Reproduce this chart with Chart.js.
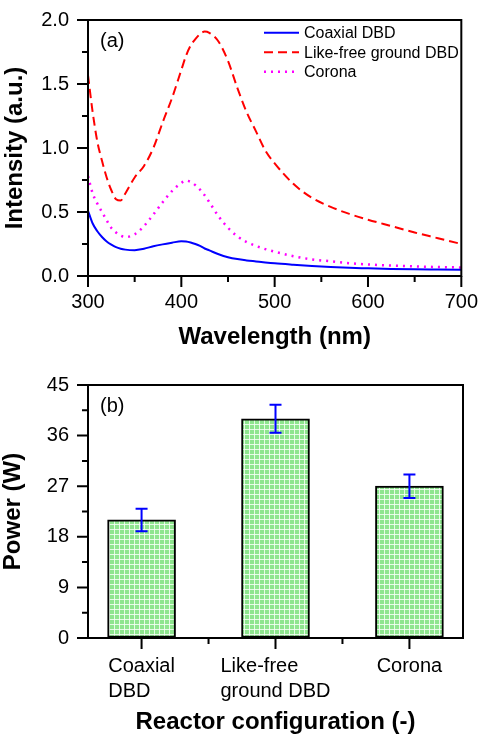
<!DOCTYPE html>
<html><head><meta charset="utf-8">
<script src="https://cdn.jsdelivr.net/npm/chart.js@4.4.1/dist/chart.umd.min.js"></script>
<style>
html,body{margin:0;padding:0;background:#fff;}
#wrap{position:relative;width:481px;height:739px;}
canvas{position:absolute;left:0;}
</style></head><body>
<div id="wrap">
<canvas id="top" width="481" height="365" style="top:0;width:481px;height:365px"></canvas>
<canvas id="bot" width="481" height="374" style="top:365px;width:481px;height:374px"></canvas>
</div>
<script>
// ---------- data (panel a) ----------
const wavelength = [300,305,310,315,320,325,330,335,340,350,360,370,380,390,400,405,410,415,420,425,430,440,450,460,470,480,490,500,520,540,560,580,600,625,650,675,700];
const coaxialDBD = [0.51,0.41,0.35,0.305,0.27,0.245,0.225,0.213,0.206,0.202,0.213,0.232,0.247,0.26,0.272,0.27,0.262,0.25,0.235,0.215,0.2,0.17,0.147,0.132,0.122,0.114,0.106,0.099,0.088,0.078,0.07,0.064,0.06,0.055,0.052,0.05,0.048];
const likeFreeDBD = [1.57,1.28,1.05,0.90,0.77,0.67,0.60,0.59,0.645,0.77,0.86,1.0,1.20,1.39,1.61,1.72,1.80,1.85,1.89,1.91,1.90,1.83,1.68,1.47,1.28,1.13,0.98,0.88,0.72,0.61,0.54,0.485,0.44,0.39,0.34,0.295,0.25];
const corona = [0.78,0.645,0.565,0.50,0.435,0.375,0.34,0.315,0.305,0.325,0.39,0.48,0.576,0.664,0.727,0.745,0.735,0.71,0.675,0.63,0.577,0.465,0.377,0.31,0.265,0.235,0.21,0.19,0.155,0.13,0.115,0.10,0.09,0.082,0.075,0.07,0.067];
const seriesNames = ['Coaxial DBD','Like-free ground DBD','Corona'];
const xTicksA = [300,400,500,600,700];
const yTicksA = [0,0.5,1.0,1.5,2.0];

// ---------- data (panel b) ----------
const categories = ['Coaxial DBD','Like-free ground DBD','Corona'];
const categoryLines = [['Coaxial','DBD'],['Like-free','ground DBD'],['Corona']];
const categoryPos = [1,2,3];
const power = [21,39,27];
const powerErr = [2,2.5,2.1];
const yTicksB = [0,9,18,27,36,45];

const FONT = "'Liberation Sans', Arial, sans-serif";
Chart.defaults.font.family = FONT;
Chart.defaults.color = '#000';

function toXY(arr){ return wavelength.map((w,i)=>({x:w,y:arr[i]})); }

// frame + tick marks plugin
const framePlugin = {
  id:'frameTicks',
  afterDraw(chart, args, o){
    const {ctx, chartArea:a, scales} = chart;
    const xs = scales.x, ys = scales.y;
    ctx.save();
    ctx.strokeStyle = '#000';
    ctx.lineWidth = 2;
    ctx.lineCap = 'butt';
    ctx.beginPath();
    o.xMajor.forEach(v=>{const p=xs.getPixelForValue(v); ctx.moveTo(p,a.bottom); ctx.lineTo(p,a.bottom+11);});
    o.xMinor.forEach(v=>{const p=xs.getPixelForValue(v); ctx.moveTo(p,a.bottom); ctx.lineTo(p,a.bottom+6);});
    o.yMajor.forEach(v=>{const p=ys.getPixelForValue(v); ctx.moveTo(a.left,p); ctx.lineTo(a.left-11,p);});
    o.yMinor.forEach(v=>{const p=ys.getPixelForValue(v); ctx.moveTo(a.left,p); ctx.lineTo(a.left-6,p);});
    ctx.stroke();
    ctx.strokeRect(a.left, a.top, a.right-a.left, a.bottom-a.top);
    // panel label
    ctx.fillStyle = '#000';
    ctx.font = "20px " + FONT;
    ctx.textBaseline = 'alphabetic';
    ctx.textAlign = 'left';
    ctx.fillText(o.panel, a.left+12, a.top+27);
    ctx.restore();
  }
};

function mids(arr){ const r=[]; for(let i=0;i<arr.length-1;i++) r.push((arr[i]+arr[i+1])/2); return r; }

// legend plugin for panel a
const legendPlugin = {
  id:'lineLegend',
  afterDraw(chart){
    const {ctx} = chart;
    ctx.save();
    const rows = [38.3, 57.7, 77.3];
    chart.data.datasets.forEach((ds,i)=>{
      const yl = rows[i]-5.5;
      ctx.strokeStyle = ds.borderColor;
      ctx.lineWidth = ds.borderWidth;
      ctx.setLineDash(ds.borderDash || []);
      ctx.beginPath(); ctx.moveTo(264, yl); ctx.lineTo(299, yl); ctx.stroke();
      ctx.setLineDash([]);
      ctx.fillStyle = '#000';
      ctx.font = "16px " + FONT;
      ctx.textAlign = 'left';
      ctx.textBaseline = 'alphabetic';
      ctx.fillText(ds.label, 304, rows[i]);
    });
    ctx.restore();
  }
};

const hidden = 'rgba(0,0,0,0)';

new Chart(document.getElementById('top'), {
  type:'line',
  data:{ datasets:[
    {label:seriesNames[0], data:toXY(coaxialDBD), borderColor:'#0000ff', borderWidth:2, pointRadius:0, cubicInterpolationMode:'monotone', fill:false},
    {label:seriesNames[1], data:toXY(likeFreeDBD), borderColor:'#ff0000', borderWidth:2, borderDash:[9,5], pointRadius:0, cubicInterpolationMode:'monotone', fill:false},
    {label:seriesNames[2], data:toXY(corona), borderColor:'#ff00ff', borderWidth:2.5, borderDash:[2,5], pointRadius:0, cubicInterpolationMode:'monotone', fill:false}
  ]},
  options:{
    responsive:false, animation:false,
    layout:{padding:{top:12,right:18,left:0,bottom:0}},
    plugins:{legend:{display:false}, tooltip:{enabled:false},
      frameTicks:{panel:'(a)', xMajor:xTicksA, xMinor:mids(xTicksA), yMajor:yTicksA, yMinor:mids(yTicksA)}},
    scales:{
      x:{type:'linear', min:300, max:700, offset:false,
        grid:{display:true, drawOnChartArea:false, drawTicks:true, tickLength:11, color:hidden},
        border:{display:false},
        ticks:{stepSize:100, padding:3, maxRotation:0, autoSkip:false, font:{size:20}, color:'#000'},
        title:{display:true, text:'Wavelength (nm)', font:{size:24, weight:'bold', lineHeight:1}, padding:{top:0,bottom:16}, color:'#000'},
        afterFit(s){ s.height = 89; }
      },
      y:{min:0, max:2,
        grid:{display:true, drawOnChartArea:false, drawTicks:true, tickLength:11, color:hidden},
        border:{display:false},
        ticks:{stepSize:0.5, padding:8, font:{size:20}, color:'#000', callback:v=>Number(v).toFixed(1)},
        title:{display:true, text:'Intensity (a.u.)', font:{size:24, weight:'bold', lineHeight:1}, padding:{top:3,bottom:0}, color:'#000'},
        afterFit(s){ s.width = 88; }
      }
    }
  },
  plugins:[framePlugin, legendPlugin]
});

// bar pattern
function makePattern(){
  const c = document.createElement('canvas');
  c.width = 5; c.height = 5;
  const g = c.getContext('2d');
  g.fillStyle = '#8ee58e';
  g.fillRect(0,0,5,5);
  g.fillStyle = 'rgba(245,255,245,0.85)';
  g.fillRect(4,0,1,5);
  g.fillRect(0,4,5,1);
  return g.createPattern(c,'repeat');
}

const errPlugin = {
  id:'errBars',
  afterDatasetsDraw(chart){
    const {ctx, scales} = chart;
    ctx.save();
    ctx.strokeStyle = '#0000ff';
    ctx.lineWidth = 2;
    categoryPos.forEach((c,i)=>{
      const x = scales.x.getPixelForValue(c);
      const yt = scales.y.getPixelForValue(power[i]+powerErr[i]);
      const yb = scales.y.getPixelForValue(power[i]-powerErr[i]);
      ctx.beginPath();
      ctx.moveTo(x,yt); ctx.lineTo(x,yb);
      ctx.moveTo(x-6,yt); ctx.lineTo(x+6,yt);
      ctx.moveTo(x-6,yb); ctx.lineTo(x+6,yb);
      ctx.stroke();
    });
    ctx.restore();
  },
  afterDraw(chart){
    const {ctx, scales} = chart;
    ctx.save();
    ctx.fillStyle = '#000';
    ctx.font = "20px " + FONT;
    ctx.textAlign = 'left';
    ctx.textBaseline = 'alphabetic';
    const a = chart.chartArea;
    categoryLines.forEach((lines,i)=>{
      const x = scales.x.getPixelForValue(categoryPos[i]);
      const w = Math.max(...lines.map(t=>ctx.measureText(t).width));
      lines.forEach((t,j)=>ctx.fillText(t, x - w/2, a.bottom + 34 + j*25));
    });
    ctx.restore();
  }
};

new Chart(document.getElementById('bot'), {
  type:'bar',
  data:{ datasets:[{
    label:'Power',
    data:categoryPos.map((c,i)=>({x:c, y:power[i]})),
    backgroundColor:makePattern(),
    borderColor:'#000', borderWidth:2, borderSkipped:false,
    barThickness:68
  }]},
  options:{
    responsive:false, animation:false,
    layout:{padding:{top:9,right:18,left:0,bottom:0}},
    plugins:{legend:{display:false}, tooltip:{enabled:false},
      frameTicks:{panel:'(b)', xMajor:categoryPos, xMinor:mids(categoryPos), yMajor:yTicksB, yMinor:mids(yTicksB)}},
    scales:{
      x:{type:'linear', min:0.6, max:3.4, offset:false,
        grid:{display:true, offset:false, drawOnChartArea:false, drawTicks:false, color:hidden},
        border:{display:false},
        ticks:{display:false},
        title:{display:true, text:'Reactor configuration (-)', font:{size:24, weight:'bold', lineHeight:1}, padding:{top:0,bottom:5}, color:'#000'},
        afterFit(s){ s.height = 101; }
      },
      y:{min:0, max:45,
        grid:{display:true, drawOnChartArea:false, drawTicks:true, tickLength:11, color:hidden},
        border:{display:false},
        ticks:{stepSize:9, padding:8, font:{size:20}, color:'#000'},
        title:{display:true, text:'Power (W)', font:{size:24, weight:'bold', lineHeight:1}, padding:{top:1,bottom:0}, color:'#000'},
        afterFit(s){ s.width = 88; }
      }
    }
  },
  plugins:[framePlugin, errPlugin]
});
</script>
</body></html>
